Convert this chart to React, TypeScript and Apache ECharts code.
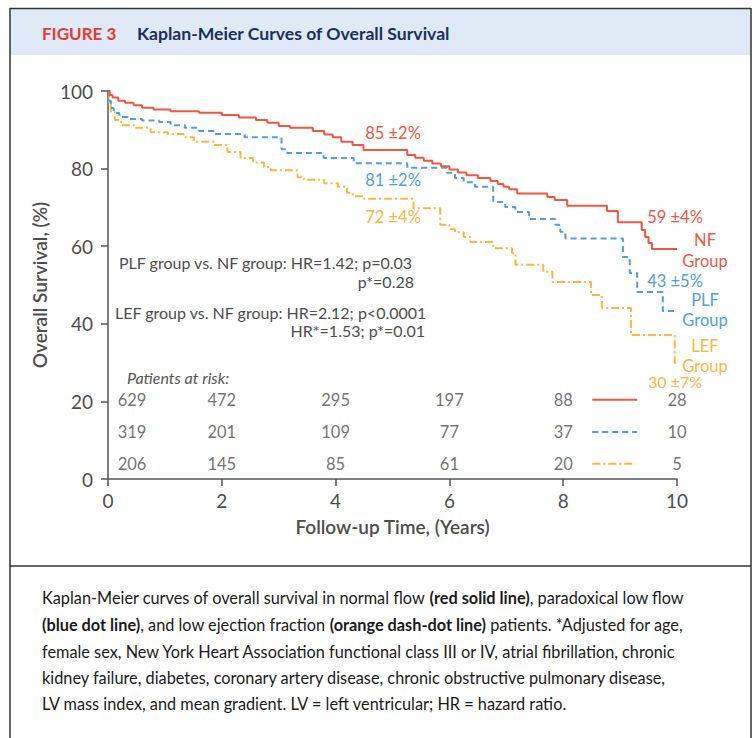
import React, { useEffect, useRef } from "react";
import * as echarts from "echarts";

// ---- data ----
const nfTimes = [0, 0.03, 0.08, 0.18, 0.3, 0.45, 0.6, 0.8, 1.1, 1.6, 2.0, 2.3, 2.6, 2.8, 3.0, 3.2, 3.6, 3.8, 3.95, 4.1, 4.3, 4.49, 5.26, 5.4, 5.55, 5.7, 5.85, 6.0, 6.15, 6.3, 6.5, 6.72, 6.85, 6.95, 7.05, 7.19, 7.72, 7.85, 8.07, 8.77, 8.96, 9.38, 9.44, 9.5, 9.56, 10];
const nfSurv = [100, 99, 98.3, 97.5, 97, 96.3, 95.7, 95.2, 94.8, 94.4, 93.8, 93.2, 92.5, 91.8, 91, 90.5, 89.7, 88.8, 88.1, 86.9, 86.1, 84.8, 83.5, 82.8, 82.0, 81.3, 80.6, 79.8, 79.0, 78.3, 77.6, 76.8, 76.0, 75.3, 74.7, 73.6, 72.7, 71.9, 70.4, 69.1, 66.2, 64.2, 62.4, 60.8, 59.3, 59.3];

const plfTimes = [0, 0.02, 0.05, 0.1, 0.2, 0.35, 0.6, 0.9, 1.1, 1.35, 1.6, 1.86, 2.4, 3.05, 3.15, 3.79, 4.32, 5.26, 5.96, 6.1, 6.25, 6.45, 6.77, 6.98, 7.16, 7.4, 7.86, 7.95, 8.04, 9.05, 9.17, 9.3, 9.75, 10];
const plfSurv = [100, 97.5, 95.6, 94.3, 93.3, 92.8, 92.4, 92.0, 91.2, 90.5, 89.7, 88.9, 88.1, 85.0, 84.0, 82.7, 81.4, 80.2, 78.9, 77.6, 76.5, 75.3, 71.4, 70.1, 68.8, 67.0, 65.5, 63.7, 62.0, 57.2, 53.1, 48.2, 43.3, 43.3];

const lefTimes = [0, 0.02, 0.05, 0.12, 0.23, 0.46, 0.75, 1.05, 1.33, 1.51, 1.86, 2.1, 2.33, 2.55, 2.74, 2.86, 3.33, 3.44, 3.8, 4.04, 4.2, 4.3, 4.49, 5.37, 5.84, 6.0, 6.1, 6.25, 6.37, 6.77, 7.1, 7.16, 7.65, 7.81, 8.49, 8.68, 9.19, 9.96, 10];
const lefSurv = [100, 96.5, 94.6, 92.5, 91.2, 90.5, 89.4, 88.9, 88.1, 86.9, 86.1, 84.3, 82.7, 81.6, 80.4, 79.6, 77.8, 77.1, 76.2, 75.3, 73.8, 72.9, 72.2, 69.8, 65.5, 64.4, 63.6, 62.4, 61.1, 59.5, 58.2, 55.2, 53.4, 50.8, 47.4, 44.1, 37.1, 29.9, 29.9];

const riskTimes = [0, 2, 4, 6, 8, 10];
const riskNF = [629, 472, 295, 197, 88, 28];
const riskPLF = [319, 201, 109, 77, 37, 10];
const riskLEF = [206, 145, 85, 61, 20, 5];

const groupNames = ["NF", "PLF", "LEF"];
const fiveYear = ["85 ±2%", "81 ±2%", "72 ±4%"];
const tenYear = ["59 ±4%", "43 ±5%", "30 ±7%"];

const statLines = [
  "PLF group vs. NF group: HR=1.42; p=0.03",
  "p*=0.28",
  "LEF group vs. NF group: HR=2.12; p<0.0001",
  "HR*=1.53; p*=0.01",
];

// ---- styles ----
const RED = "#ef5741";
const BLUE = "#4f9fdb";
const ORANGE = "#fcb640";
const GRAY = "#4d4d4d";
const FONT = "Lato, 'Noto Sans', sans-serif";

const pairs = (t: number[], s: number[]) => t.map((x, i) => [x, s[i]]);

export default function App() {
  const ref = useRef<HTMLDivElement>(null);
  useEffect(() => {
    if (!ref.current) return;
    const chart = echarts.init(ref.current, undefined, { renderer: "svg" });

    const rowY = [20.4, 12.1, 3.9];
    const riskSeries = [riskNF, riskPLF, riskLEF].map((arr, r) => ({
      type: "scatter",
      silent: true,
      symbolSize: 0,
      data: riskTimes.map((t, i) => ({
        value: [t, rowY[r], arr[i]],
        label: i === 0 ? { offset: [24, 0] } : undefined,
      })),
      label: {
        show: true,
        position: "inside",
        formatter: (p: any) => String(p.value[2]),
        color: GRAY,
        fontSize: 16.5,
        fontFamily: FONT,
      },
    }));

    const sampleLine = (color: string, type: any, y: number, x2: number) => ({
      type: "line",
      silent: true,
      symbol: "none",
      data: [[8.51, y], [x2, y]],
      lineStyle: { color, width: 2, type },
    });

    const txt = (x: number, y: number, text: string, fill: string, opts: any = {}) => ({
      type: "text",
      x,
      y,
      style: {
        text,
        fill,
        fontSize: 16.5,
        fontFamily: FONT,
        textAlign: "center",
        textVerticalAlign: "middle",
        ...opts,
      },
    });

    const captionStyle = { fontFamily: FONT, fontSize: 16.3, fill: "#1a1a1a" };
    const bold = { fontFamily: FONT, fontSize: 16.3, fill: "#1a1a1a", fontWeight: "bold" };
    const capLines = [
      "{n|Kaplan-Meier curves of overall survival in normal flow }{b|(red solid line)}{n|, paradoxical low flow}",
      "{b|(blue dot line)}{n|, and low ejection fraction }{b|(orange dash-dot line)}{n| patients. *Adjusted for age,}",
      "{n|female sex, New York Heart Association functional class III or IV, atrial fibrillation, chronic}",
      "{n|kidney failure, diabetes, coronary artery disease, chronic obstructive pulmonary disease,}",
      "{n|LV mass index, and mean gradient. LV = left ventricular; HR = hazard ratio.}",
    ];
    const capY = [597, 624, 651, 677, 703];

    const option: any = {
      animation: false,
      grid: { left: 108, right: 79, top: 91, bottom: 259 },
      xAxis: {
        type: "value",
        min: 0,
        max: 10,
        interval: 2,
        name: "Follow-up Time, (Years)",
        nameLocation: "middle",
        nameGap: 38,
        nameTextStyle: { fontSize: 19, fontWeight: 600, color: GRAY, fontFamily: FONT },
        axisLine: { lineStyle: { color: "#555", width: 1.5 } },
        axisTick: { length: 7, lineStyle: { color: "#555", width: 1.5 } },
        axisLabel: { fontSize: 19, color: GRAY, margin: 12, fontFamily: FONT },
        splitLine: { show: false },
      },
      yAxis: {
        type: "value",
        min: 0,
        max: 100,
        interval: 20,
        name: "Overall Survival, (%)",
        nameLocation: "middle",
        nameGap: 55,
        nameTextStyle: { fontSize: 19, fontWeight: 600, color: GRAY, fontFamily: FONT },
        axisLine: { show: true, lineStyle: { color: "#555", width: 1.5 } },
        axisTick: { show: true, length: 7, lineStyle: { color: "#555", width: 1.5 } },
        axisLabel: { fontSize: 19, color: GRAY, margin: 15, fontFamily: FONT },
        splitLine: { show: false },
      },
      series: [
        {
          name: groupNames[2],
          type: "line",
          step: "end",
          symbol: "none",
          data: pairs(lefTimes, lefSurv),
          lineStyle: { color: ORANGE, width: 2, type: [8, 3, 2, 3] },
        },
        {
          name: groupNames[1],
          type: "line",
          step: "end",
          symbol: "none",
          data: pairs(plfTimes, plfSurv),
          lineStyle: { color: BLUE, width: 2, type: [6, 4] },
        },
        {
          name: groupNames[0],
          type: "line",
          step: "end",
          symbol: "none",
          data: pairs(nfTimes, nfSurv),
          lineStyle: { color: RED, width: 2, type: "solid" },
        },
        ...riskSeries,
        sampleLine(RED, "solid", rowY[0], 9.3),
        sampleLine(BLUE, [6, 4], rowY[1], 9.3),
        sampleLine(ORANGE, [8, 3, 2, 3], rowY[2], 9.27),
      ],
      graphic: [
        // frame
        { type: "rect", shape: { x: 10, y: 9, width: 741, height: 46 }, style: { fill: "#dfeaf6" }, silent: true },
        { type: "line", shape: { x1: 10, y1: 8.5, x2: 751, y2: 8.5 }, style: { stroke: "#333", lineWidth: 1.5 } },
        { type: "line", shape: { x1: 10, y1: 8, x2: 10, y2: 738 }, style: { stroke: "#333", lineWidth: 1.5 } },
        { type: "line", shape: { x1: 751, y1: 8, x2: 751, y2: 738 }, style: { stroke: "#333", lineWidth: 1.5 } },
        { type: "line", shape: { x1: 10, y1: 566, x2: 751, y2: 566 }, style: { stroke: "#333", lineWidth: 1.5 } },
        txt(42, 33, "FIGURE 3", "#e63a35", { textAlign: "left", fontWeight: "bold", fontSize: 17 }),
        txt(137, 33, "Kaplan-Meier Curves of Overall Survival", "#1b2f5e", { textAlign: "left", fontWeight: "bold", fontSize: 17.6 }),
        // curve annotations
        txt(393, 133, fiveYear[0], RED),
        txt(393, 180, fiveYear[1], BLUE),
        txt(393, 217, fiveYear[2], ORANGE),
        txt(675, 217, tenYear[0], RED),
        txt(705, 240, groupNames[0], RED),
        txt(705, 261, "Group", RED),
        txt(675, 281, tenYear[1], BLUE),
        txt(705, 300, groupNames[1], BLUE),
        txt(705, 320, "Group", BLUE),
        txt(705, 346, groupNames[2], ORANGE),
        txt(705, 366, "Group", ORANGE),
        txt(675, 381, tenYear[2], ORANGE, { fontSize: 16 }),
        // stats
        txt(119, 262, statLines[0], GRAY, { textAlign: "left", fontSize: 16 }),
        txt(414, 281, statLines[1], GRAY, { textAlign: "right", fontSize: 16 }),
        txt(115, 312, statLines[2], GRAY, { textAlign: "left", fontSize: 16 }),
        txt(425, 330, statLines[3], GRAY, { textAlign: "right", fontSize: 16 }),
        txt(127, 377, "Patients at risk:", "#555", { textAlign: "left", fontSize: 16, fontStyle: "italic" }),
        // caption
        ...capLines.map((line, i) => ({
          type: "text",
          x: 42,
          y: capY[i],
          style: {
            text: line,
            ...captionStyle,
            textVerticalAlign: "middle",
            rich: { n: captionStyle, b: bold },
          },
        })),
      ],
    };
    chart.setOption(option);
    return () => chart.dispose();
  }, []);

  return (
    <div
      ref={ref}
      style={{ position: "absolute", left: 0, top: 0, width: 756, height: 738, background: "#fff" }}
    />
  );
}
